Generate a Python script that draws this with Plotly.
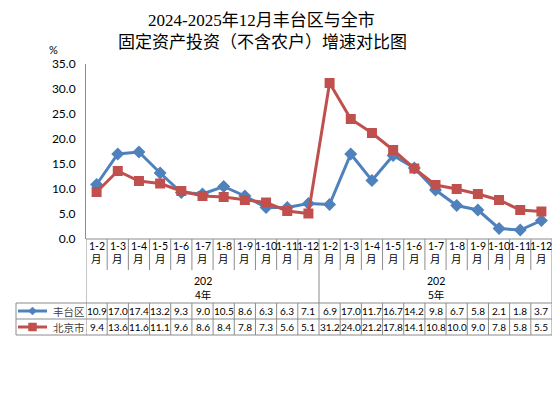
import plotly.graph_objects as go

months = ["1-2", "1-3", "1-4", "1-5", "1-6", "1-7", "1-8", "1-9", "1-10", "1-11", "1-12"]
years = ["2024年", "2025年"]
categories = [m for y in years for m in months]
fengtai = [10.9, 17.0, 17.4, 13.2, 9.3, 9.0, 10.5, 8.6, 6.3, 6.3, 7.1,
           6.9, 17.0, 11.7, 16.7, 14.2, 9.8, 6.7, 5.8, 2.1, 1.8, 3.7]
beijing = [9.4, 13.6, 11.6, 11.1, 9.6, 8.6, 8.4, 7.8, 7.3, 5.6, 5.1,
           31.2, 24.0, 21.2, 17.8, 14.1, 10.8, 10.0, 9.0, 7.8, 5.8, 5.5]
series_names = ["丰台区", "北京市"]
y_ticks = [0, 5, 10, 15, 20, 25, 30, 35]

BLUE = "#4F81BD"
RED = "#C0504D"
GRID = "#8C8C8C"
NUM_FONT = "Lato, Calibri, sans-serif"
CJK_FONT = "Noto Sans CJK SC"
TITLE_FONT = "Liberation Serif, Noto Sans CJK SC"

W, H = 554, 396
# plot area in page pixels
L, R, T, B = 86, 552, 64, 239
n = len(categories)
xs = list(range(n))


def py(p):
    return (B - p) / (B - T)


def px(p):
    return (p - L) / (R - L)


fig = go.Figure()
fig.add_trace(go.Scatter(x=xs, y=fengtai, mode="lines+markers", name=series_names[0],
                         line=dict(color=BLUE, width=3),
                         marker=dict(symbol="diamond", size=10, color=BLUE),
                         cliponaxis=False))
fig.add_trace(go.Scatter(x=xs, y=beijing, mode="lines+markers", name=series_names[1],
                         line=dict(color=RED, width=3),
                         marker=dict(symbol="square", size=10, color=RED),
                         cliponaxis=False))

shapes = []
ann = []


def hline(y0, xa, xb, xref="paper"):
    shapes.append(dict(type="line", xref=xref, yref="paper", x0=xa, x1=xb, y0=y0, y1=y0,
                       line=dict(color=GRID, width=1)))


def vline(x0, ya, yb, xref="x"):
    shapes.append(dict(type="line", xref=xref, yref="paper", x0=x0, x1=x0, y0=ya, y1=yb,
                       line=dict(color=GRID, width=1)))


ROW_CAT_END = 270
ROW_YEAR_END = 303
ROW1_END = 319
ROW2_END = 335
LEG_LEFT = 16

hline(0, 0, 1)
for k in range(n + 1):
    xb = k - 0.5
    if k in (0, n, 11):
        vline(xb, py(ROW2_END), 0)
    else:
        vline(xb, py(ROW_CAT_END), 0)
        vline(xb, py(ROW2_END), py(ROW_YEAR_END))
for p in (ROW_YEAR_END, ROW1_END, ROW2_END):
    hline(py(p), px(LEG_LEFT), 1)
vline(px(LEG_LEFT), py(ROW2_END), py(ROW_YEAR_END), xref="paper")


def text(x, y, s, font, size, xref="x", xanchor="center", color="#000"):
    ann.append(dict(x=x, y=y, xref=xref, yref="paper", text=s, showarrow=False,
                    xanchor=xanchor, yanchor="middle",
                    font=dict(family=font, size=size, color=color)))


for i, c in enumerate(categories):
    text(i, py(246), c, NUM_FONT, 10.5)
    text(i, py(258), "月", CJK_FONT, 10.5)
for j, yl in enumerate(years):
    xc = j * 11 + 5
    text(xc, py(281), yl[:3], NUM_FONT, 10.5)
    text(xc, py(294), yl[3:], CJK_FONT, 10.5)

for row_y, vals in ((311, fengtai), (327, beijing)):
    for i, v in enumerate(vals):
        text(i, py(row_y), f"{v:.1f}", NUM_FONT, 10)

# legend keys inside the data table
for row_y, name, col in ((311, series_names[0], BLUE), (327, series_names[1], RED)):
    shapes.append(dict(type="line", xref="paper", yref="paper", x0=px(18), x1=px(47),
                       y0=py(row_y), y1=py(row_y), line=dict(color=col, width=3)))
    text(px(51), py(row_y), name, CJK_FONT, 10.5, xref="paper", xanchor="left", color="#404040")
cx = 32.5
d = 4
dia = (f"M {px(cx - d)},{py(311)} L {px(cx)},{py(311 - d)} L {px(cx + d)},{py(311)} "
       f"L {px(cx)},{py(311 + d)} Z")
shapes.append(dict(type="path", xref="paper", yref="paper", path=dia,
                   fillcolor=BLUE, line=dict(color=BLUE, width=0.5)))
shapes.append(dict(type="rect", xref="paper", yref="paper", x0=px(cx - 4), x1=px(cx + 4),
                   y0=py(327 + 4), y1=py(327 - 4), fillcolor=RED, line=dict(color=RED, width=0.5)))

text(px(261), py(20), "2024-2025年12月丰台区与全市", TITLE_FONT, 17, xref="paper")
text(px(262), py(43), "固定资产投资（不含农户）增速对比图", TITLE_FONT, 17, xref="paper")
text(px(53), py(49), "%", NUM_FONT, 11, xref="paper")

fig.update_layout(
    width=W, height=H,
    margin=dict(l=L, r=W - R, t=T, b=H - B, autoexpand=False),
    paper_bgcolor="white", plot_bgcolor="white",
    showlegend=False,
    xaxis=dict(range=[-0.5, n - 0.5], showticklabels=False, showgrid=False, zeroline=False,
               showline=False, ticks="", fixedrange=True),
    yaxis=dict(range=[0, 35], tickvals=y_ticks, tickformat=".1f", showgrid=False, zeroline=False,
               showline=True, linecolor=GRID, linewidth=1, ticks="", ticklabelstandoff=7,
               tickfont=dict(family=NUM_FONT, size=12, color="#000"), fixedrange=True),
    shapes=shapes,
    annotations=ann,
)

fig.write_html("out.html", config={"displayModeBar": False},
               post_script="document.body.style.margin='0';document.body.style.overflow='hidden';")
